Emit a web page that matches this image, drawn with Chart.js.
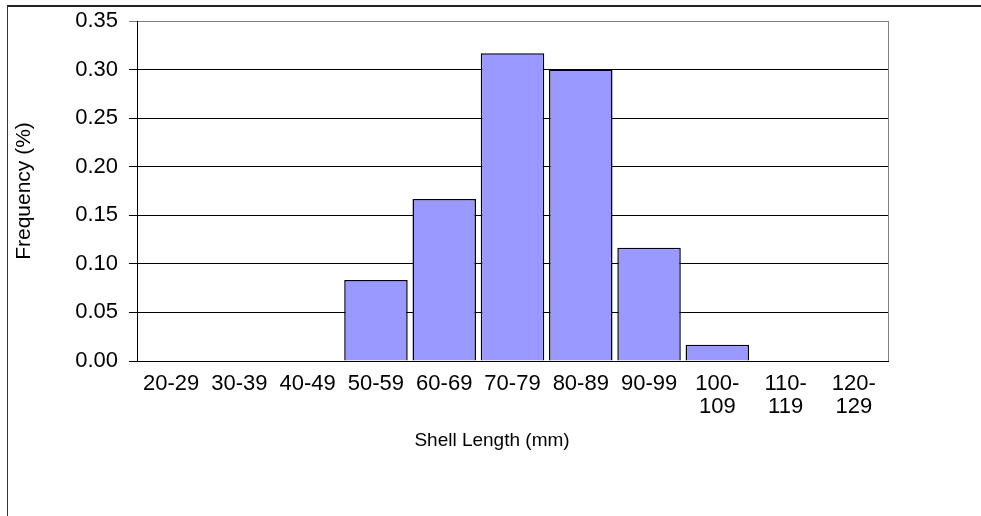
<!DOCTYPE html>
<html>
<head>
<meta charset="utf-8">
<script src="https://cdn.jsdelivr.net/npm/chart.js@4.4.1/dist/chart.umd.min.js"></script>
<style>
    html, body { margin: 0; padding: 0; background: #fff; }
    #wrap { width: 981px; height: 516px; position: relative; }
</style>
</head>
<body>
<div id="wrap"><canvas id="chart" width="981" height="516"></canvas></div>
<script>
    // Shell length classes and their frequencies
    const categories = ['20-29', '30-39', '40-49', '50-59', '60-69', '70-79', '80-89', '90-99', ['100-', '109'], ['110-', '119'], ['120-', '129']];
    const frequency = [0, 0, 0, 0.0833, 0.1667, 0.3167, 0.30, 0.1167, 0.0167, 0, 0];
    const yTicks = [0, 0.05, 0.10, 0.15, 0.20, 0.25, 0.30, 0.35];
    const xTitle = 'Shell Length (mm)';
    const yTitle = 'Frequency (%)';

    const fontFamily = '"Liberation Sans", Arial, sans-serif';

    // Outer frame lines, grey right edge of the plot, and the x title
    // (the x title sits centred on the whole picture, not on the plot)
    const framePlugin = {
        id: 'frame',
        afterDraw(chart) {
            const { ctx, chartArea } = chart;
            ctx.save();
            ctx.strokeStyle = '#808080';
            ctx.lineWidth = 1;
            ctx.beginPath();
            ctx.moveTo(Math.round(chartArea.right) + 0.5, chartArea.top);
            ctx.lineTo(Math.round(chartArea.right) + 0.5, chartArea.bottom);
            ctx.stroke();

            ctx.strokeStyle = '#222';
            ctx.lineWidth = 2;
            ctx.beginPath();
            ctx.moveTo(7, 6);
            ctx.lineTo(981, 6);
            ctx.stroke();
            ctx.lineWidth = 1;
            ctx.strokeStyle = '#333';
            ctx.beginPath();
            ctx.moveTo(7.5, 6);
            ctx.lineTo(7.5, 516);
            ctx.stroke();

            ctx.fillStyle = '#000';
            ctx.font = '19px ' + fontFamily;
            ctx.textAlign = 'center';
            ctx.textBaseline = 'middle';
            ctx.fillText(xTitle, 492, 441);
            ctx.restore();
        }
    };

    new Chart(document.getElementById('chart'), {
        type: 'bar',
        data: {
            labels: categories,
            datasets: [{
                data: frequency,
                backgroundColor: '#9999FF',
                borderColor: '#000',
                borderWidth: 1.5,
                barPercentage: 0.93,
                categoryPercentage: 1.0,
            }]
        },
        options: {
            responsive: false,
            animation: false,
            devicePixelRatio: 1,
            layout: { padding: { left: 10, top: 21, right: 93, bottom: 0 } },
            plugins: {
                legend: { display: false },
                tooltip: { enabled: false }
            },
            scales: {
                x: {
                    grid: { display: false, drawTicks: false },
                    border: { color: '#000', width: 1 },
                    ticks: {
                        color: '#000',
                        padding: 11,
                        maxRotation: 0,
                        autoSkip: false,
                        font: { family: fontFamily, size: 22, lineHeight: 1.05 }
                    },
                    title: { display: false },
                    afterFit: scale => { scale.height = 155; }
                },
                y: {
                    min: 0,
                    max: 0.35,
                    afterBuildTicks: scale => { scale.ticks = yTicks.map(v => ({ value: v })); },
                    grid: {
                        color: ctx => (ctx.tick && ctx.tick.value === 0.35) ? '#808080' : '#000',
                        lineWidth: 1,
                        tickLength: 8,
                        drawTicks: true
                    },
                    border: { color: '#000', width: 1 },
                    ticks: {
                        color: '#000',
                        padding: 11,
                        callback: v => Number(v).toFixed(2),
                        font: { family: fontFamily, size: 22, lineHeight: 0.9 }
                    },
                    title: {
                        display: true,
                        text: yTitle,
                        color: '#000',
                        font: { family: fontFamily, size: 21 },
                        padding: { top: 2, bottom: 0 }
                    },
                    afterFit: scale => { scale.width = 127; }
                }
            }
        },
        plugins: [framePlugin]
    });
</script>
</body>
</html>
